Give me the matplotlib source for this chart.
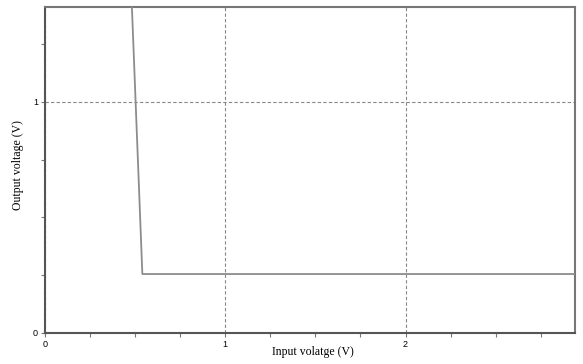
import matplotlib
matplotlib.use("Agg")
import matplotlib.pyplot as plt
from matplotlib.ticker import MultipleLocator

# transfer curve
vin = [0.0, 0.48, 0.54, 2.94]
vout = [1.45, 1.45, 0.255, 0.255]

x_ticks = [0, 1, 2]
y_ticks = [0, 1]

fig = plt.figure(figsize=(5.83, 3.64), dpi=100)
ax = fig.add_axes([0.0772, 0.0852, 0.9091, 0.8956])

ax.plot(vin, vout, color='#8c8c8c', lw=1.3, clip_on=True, zorder=3)

ax.set_xlim(0, 2.94)
ax.set_ylim(0, 1.41)
ax.set_xticks(x_ticks)
ax.set_yticks(y_ticks)
ax.xaxis.set_minor_locator(MultipleLocator(0.25))
ax.yaxis.set_minor_locator(MultipleLocator(0.25))
ax.tick_params(which='both', direction='out', length=3, width=0.8, colors='#777777',
               labelcolor='black', labelsize=6.5, pad=2)
for lab in ax.get_xticklabels() + ax.get_yticklabels():
    lab.set_fontfamily('Liberation Sans')

ax.grid(True, which='major', ls=(0, (3, 2)), color='#888888', lw=0.8)

ax.spines['left'].set_color('#555555')
ax.spines['bottom'].set_color('#555555')
ax.spines['top'].set_color('#777777')
ax.spines['right'].set_color('#777777')
for s in ax.spines.values():
    s.set_linewidth(1.5)

ax.set_xlabel('Input volatge (V)', fontfamily='Liberation Serif', fontsize=8.5)
ax.set_ylabel('Output voltage (V)', fontfamily='Liberation Serif', fontsize=8.5)
ax.xaxis.set_label_coords(0.506, -0.040)
ax.yaxis.set_label_coords(-0.039, 0.515)

plt.savefig('out.png', dpi=100)
